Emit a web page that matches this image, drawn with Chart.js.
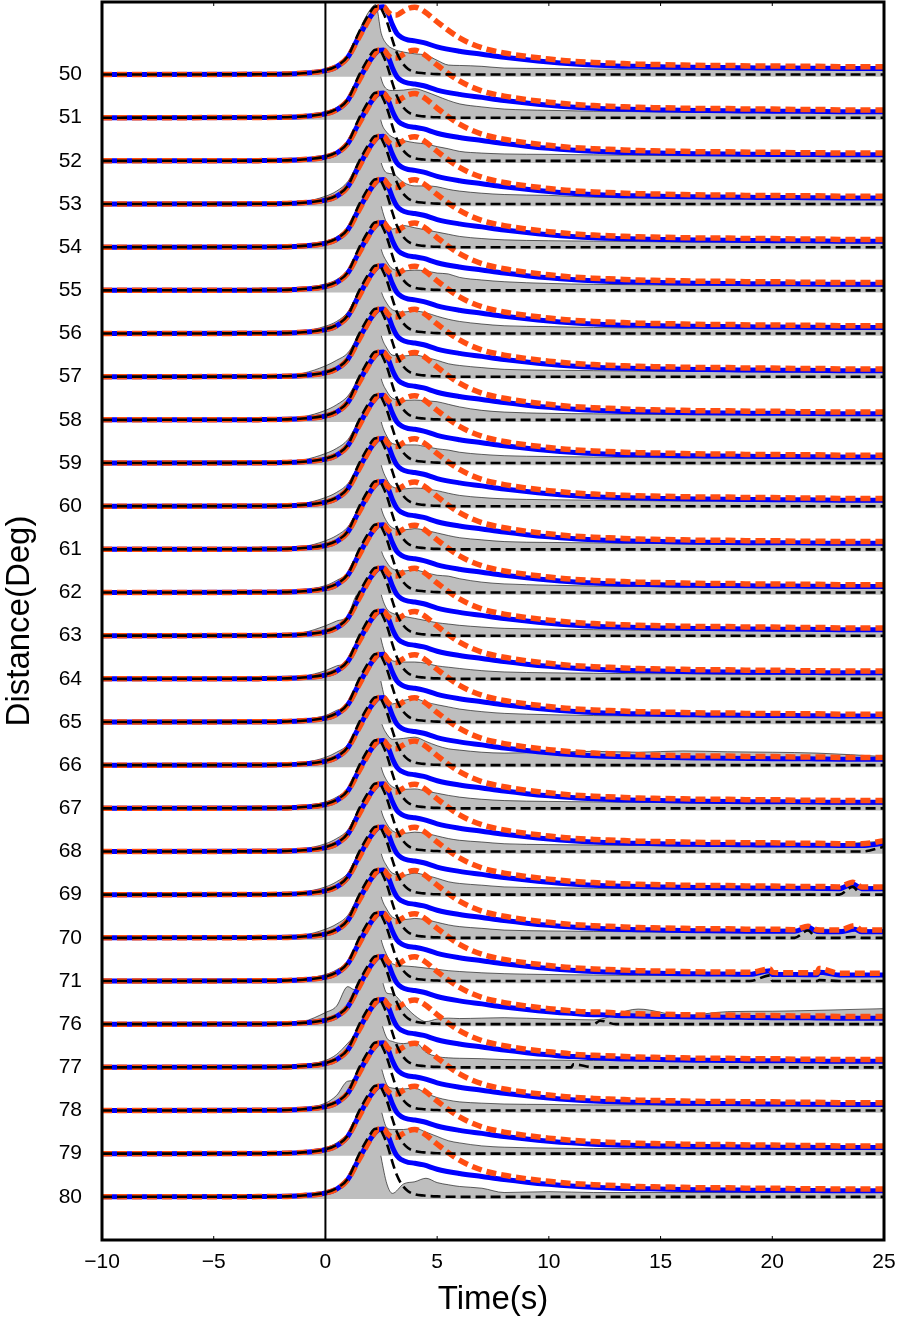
<!DOCTYPE html>
<html>
<head>
<meta charset="utf-8">
<script src="https://cdn.jsdelivr.net/npm/chart.js@4"></script>
<style>
  body { margin: 0; background: #fff; }
  canvas { display: block; }
</style>
</head>
<body>
<canvas id="chart" width="898" height="1320"></canvas>
<script>
// epicentral distances (one trace each)
const distances = [50, 51, 52, 53, 54, 55, 56, 57, 58, 59, 60, 61, 62, 63, 64, 65, 66, 67, 68, 69, 70, 71, 76, 77, 78, 79, 80];
const timeTicks = [-10, -5, 0, 5, 10, 15, 20, 25];

// synthetic traces, sampled times (s) and amplitudes (trace spacings)
const synTimes = [-10, -3, -1, 0, 0.5, 1, 1.5, 2, 2.2, 2.4, 2.6, 2.8, 3, 3.2, 3.4, 3.7, 4, 4.4, 5, 6, 7, 8, 9, 10, 11, 12, 13, 14, 15, 16, 17, 18, 19, 20, 21, 22, 23, 24, 25];
const blackSyn = [0, 0.005, 0.03, 0.1, 0.2, 0.42, 0.98, 1.44, 1.57, 1.58, 1.42, 1.15, 0.8, 0.5, 0.3, 0.13, 0.06, 0.03, 0.01, 0, 0, 0, 0, 0, 0, 0, 0, 0, 0, 0, 0, 0, 0, 0, 0, 0, 0, 0, 0];
const blueSyn = [0, 0.005, 0.03, 0.09, 0.18, 0.4, 0.88, 1.33, 1.47, 1.56, 1.57, 1.42, 1.15, 0.95, 0.86, 0.8, 0.78, 0.74, 0.64, 0.54, 0.47, 0.4, 0.34, 0.29, 0.25, 0.22, 0.2, 0.19, 0.18, 0.17, 0.165, 0.16, 0.155, 0.15, 0.15, 0.145, 0.14, 0.14, 0.14];
const orangeSyn = [0, 0.005, 0.03, 0.09, 0.18, 0.4, 0.86, 1.32, 1.48, 1.57, 1.57, 1.45, 1.38, 1.38, 1.44, 1.53, 1.56, 1.47, 1.22, 0.85, 0.62, 0.5, 0.42, 0.36, 0.31, 0.28, 0.26, 0.24, 0.23, 0.22, 0.21, 0.21, 0.2, 0.2, 0.19, 0.19, 0.18, 0.18, 0.18];

// late arrivals on some synthetics: [distance, time, orange, blue, black]
const lateBumps = [
  [68, 25, 0.25, 0.19, 0.11],
  [69, 23.6, 0.29, 0.25, 0.18],
  [70, 21.6, 0.27, 0.25, 0.17],
  [70, 23.7, 0.28, 0.2, 0.02],
  [71, 19.9, 0.28, 0.24, 0.13],
  [71, 22.1, 0.29, 0.2, 0.02],
  [76, 12.3, 0.28, 0.22, 0.08],
  [77, 11.1, 0.3, 0.25, 0.07]
];

// observed (grey) traces
const obsTimes = [-10, -2, -1, 0, 0.5, 1, 1.3, 1.6, 2, 2.25, 2.5, 2.75, 3, 3.5, 4, 4.5, 5, 5.5, 6, 7, 8, 10, 12, 14, 16, 18, 20, 22, 25];
const observed = [
  [0, 0.01, 0.04, 0.13, 0.22, 0.45, 0.72, 1.12, 1.5, 1.62, 0.95, 0.7, 0.6, 0.52, 0.48, 0.45, 0.33, 0.22, 0.21, 0.19, 0.15, 0.14, 0.13, 0.12, 0.12, 0.11, 0.11, 0.1, 0.1],
  [0, 0.01, 0.04, 0.14, 0.24, 0.47, 0.75, 1.12, 1.5, 1.6, 0.9, 0.66, 0.63, 0.64, 0.67, 0.6, 0.5, 0.4, 0.32, 0.25, 0.2, 0.17, 0.15, 0.14, 0.13, 0.12, 0.12, 0.12, 0.12],
  [0, 0.01, 0.04, 0.13, 0.22, 0.46, 0.72, 1.1, 1.5, 1.6, 0.9, 0.66, 0.55, 0.47, 0.42, 0.39, 0.33, 0.28, 0.22, 0.18, 0.16, 0.15, 0.14, 0.13, 0.12, 0.12, 0.11, 0.11, 0.1],
  [0, 0.01, 0.05, 0.18, 0.3, 0.52, 0.8, 1.15, 1.52, 1.6, 0.95, 0.72, 0.7, 0.5, 0.42, 0.42, 0.4, 0.34, 0.3, 0.25, 0.22, 0.2, 0.16, 0.14, 0.13, 0.12, 0.12, 0.11, 0.1],
  [0, 0.01, 0.04, 0.14, 0.24, 0.48, 0.78, 1.15, 1.52, 1.62, 0.95, 0.55, 0.42, 0.5, 0.45, 0.4, 0.35, 0.3, 0.25, 0.2, 0.17, 0.15, 0.14, 0.13, 0.12, 0.12, 0.11, 0.11, 0.1],
  [0, 0.01, 0.04, 0.15, 0.25, 0.48, 0.76, 1.12, 1.5, 1.62, 0.95, 0.66, 0.5, 0.45, 0.47, 0.45, 0.4, 0.38, 0.3, 0.24, 0.2, 0.16, 0.14, 0.13, 0.12, 0.12, 0.11, 0.11, 0.1],
  [0, 0.01, 0.05, 0.17, 0.28, 0.5, 0.78, 1.14, 1.5, 1.62, 0.98, 0.7, 0.55, 0.5, 0.52, 0.48, 0.4, 0.33, 0.28, 0.22, 0.18, 0.16, 0.14, 0.13, 0.13, 0.12, 0.12, 0.11, 0.1],
  [0, 0.02, 0.08, 0.25, 0.38, 0.55, 0.8, 1.15, 1.5, 1.62, 0.95, 0.66, 0.5, 0.48, 0.5, 0.45, 0.38, 0.3, 0.26, 0.21, 0.17, 0.15, 0.14, 0.13, 0.12, 0.12, 0.11, 0.11, 0.1],
  [0, 0.02, 0.07, 0.22, 0.35, 0.55, 0.8, 1.15, 1.5, 1.62, 0.95, 0.66, 0.5, 0.45, 0.46, 0.44, 0.42, 0.36, 0.3, 0.22, 0.18, 0.15, 0.14, 0.13, 0.12, 0.12, 0.12, 0.11, 0.1],
  [0, 0.02, 0.07, 0.22, 0.34, 0.54, 0.8, 1.14, 1.5, 1.62, 0.95, 0.62, 0.45, 0.42, 0.42, 0.38, 0.33, 0.3, 0.25, 0.2, 0.17, 0.15, 0.14, 0.13, 0.12, 0.12, 0.11, 0.11, 0.1],
  [0, 0.02, 0.06, 0.2, 0.32, 0.52, 0.78, 1.14, 1.5, 1.62, 0.95, 0.62, 0.45, 0.4, 0.42, 0.4, 0.36, 0.3, 0.25, 0.2, 0.17, 0.15, 0.14, 0.13, 0.12, 0.12, 0.11, 0.11, 0.1],
  [0, 0.02, 0.06, 0.2, 0.32, 0.52, 0.78, 1.14, 1.5, 1.62, 0.95, 0.64, 0.5, 0.45, 0.48, 0.44, 0.38, 0.32, 0.27, 0.22, 0.18, 0.16, 0.15, 0.14, 0.13, 0.12, 0.12, 0.11, 0.1],
  [0, 0.02, 0.06, 0.16, 0.28, 0.46, 0.75, 1.12, 1.5, 1.62, 0.98, 0.7, 0.55, 0.5, 0.52, 0.46, 0.4, 0.38, 0.32, 0.24, 0.2, 0.17, 0.15, 0.14, 0.13, 0.12, 0.12, 0.11, 0.1],
  [0, 0.02, 0.07, 0.23, 0.34, 0.46, 0.85, 1.15, 1.5, 1.6, 0.95, 0.62, 0.52, 0.45, 0.4, 0.35, 0.3, 0.27, 0.24, 0.2, 0.17, 0.15, 0.14, 0.13, 0.12, 0.12, 0.11, 0.11, 0.1],
  [0, 0.02, 0.06, 0.19, 0.3, 0.39, 0.7, 1.1, 1.5, 1.62, 0.9, 0.5, 0.42, 0.39, 0.39, 0.36, 0.3, 0.27, 0.24, 0.19, 0.16, 0.14, 0.13, 0.12, 0.12, 0.11, 0.11, 0.1, 0.1],
  [0, 0.02, 0.05, 0.15, 0.27, 0.39, 0.7, 1.1, 1.5, 1.62, 0.9, 0.45, 0.42, 0.5, 0.54, 0.46, 0.4, 0.35, 0.3, 0.24, 0.2, 0.17, 0.15, 0.14, 0.13, 0.12, 0.12, 0.11, 0.1],
  [0, 0.02, 0.06, 0.18, 0.3, 0.48, 0.76, 1.12, 1.5, 1.62, 1.0, 0.72, 0.6, 0.62, 0.65, 0.55, 0.45, 0.38, 0.35, 0.3, 0.28, 0.3, 0.32, 0.3, 0.33, 0.31, 0.3, 0.28, 0.2],
  [0, 0.02, 0.05, 0.15, 0.26, 0.46, 0.74, 1.12, 1.5, 1.62, 0.95, 0.64, 0.5, 0.44, 0.45, 0.4, 0.35, 0.3, 0.26, 0.21, 0.18, 0.16, 0.15, 0.14, 0.13, 0.12, 0.12, 0.11, 0.1],
  [0, 0.02, 0.06, 0.18, 0.3, 0.5, 0.78, 1.14, 1.5, 1.62, 0.95, 0.64, 0.48, 0.42, 0.45, 0.42, 0.36, 0.3, 0.26, 0.22, 0.18, 0.16, 0.15, 0.14, 0.13, 0.13, 0.14, 0.15, 0.24],
  [0, 0.02, 0.06, 0.18, 0.3, 0.5, 0.78, 1.14, 1.5, 1.62, 0.95, 0.66, 0.5, 0.45, 0.5, 0.45, 0.38, 0.3, 0.26, 0.22, 0.18, 0.16, 0.15, 0.14, 0.13, 0.13, 0.13, 0.14, 0.2],
  [0, 0.02, 0.06, 0.2, 0.32, 0.52, 0.8, 1.14, 1.5, 1.62, 0.95, 0.66, 0.48, 0.42, 0.45, 0.42, 0.36, 0.3, 0.26, 0.22, 0.18, 0.16, 0.15, 0.14, 0.13, 0.14, 0.2, 0.2, 0.18],
  [0, 0.02, 0.05, 0.15, 0.26, 0.46, 0.75, 1.12, 1.5, 1.62, 0.95, 0.6, 0.4, 0.35, 0.33, 0.3, 0.27, 0.24, 0.22, 0.19, 0.17, 0.15, 0.14, 0.13, 0.13, 0.15, 0.2, 0.18, 0.15],
  [0, 0.02, 0.06, 0.27, 0.42, 0.87, 0.8, 0.98, 1.45, 1.62, 1.1, 0.72, 0.7, 0.45, 0.2, 0.06, 0.12, 0.14, 0.13, 0.14, 0.15, 0.12, 0.1, 0.35, 0.2, 0.29, 0.3, 0.32, 0.36],
  [0, 0.02, 0.06, 0.16, 0.3, 0.56, 0.74, 1.0, 1.45, 1.6, 1.05, 0.68, 0.6, 0.55, 0.59, 0.35, 0.25, 0.22, 0.21, 0.2, 0.18, 0.17, 0.16, 0.2, 0.18, 0.17, 0.16, 0.15, 0.14],
  [0, 0.02, 0.06, 0.17, 0.35, 0.68, 0.7, 0.95, 1.45, 1.6, 1.0, 0.6, 0.52, 0.5, 0.52, 0.4, 0.3, 0.24, 0.2, 0.17, 0.15, 0.14, 0.13, 0.13, 0.12, 0.12, 0.11, 0.11, 0.1],
  [0, 0.01, 0.05, 0.14, 0.25, 0.46, 0.6, 0.95, 1.45, 1.62, 1.0, 0.6, 0.56, 0.56, 0.59, 0.5, 0.4, 0.3, 0.25, 0.18, 0.15, 0.13, 0.12, 0.12, 0.11, 0.11, 0.1, 0.1, 0.1],
  [0, 0.01, 0.03, 0.08, 0.2, 0.39, 0.62, 1.05, 1.5, 1.63, 0.9, 0.3, 0.08, 0.3, 0.35, 0.43, 0.33, 0.28, 0.24, 0.2, 0.1, 0.12, 0.1, 0.1, 0.1, 0.1, 0.1, 0.1, 0.1]
];

const FONT = "'Liberation Sans', Arial, Helvetica, sans-serif";

function withBumps(dist, col, template) {
  const pts = synTimes.map((t, k) => ({ x: t, y: template[k] }));
  lateBumps.filter(b => b[0] === dist).forEach(b => {
    const same = pts.find(p => p.x === b[1]);
    if (same) same.y = b[col];
    else pts.push({ x: b[1], y: b[col] });
  });
  pts.sort((a, b) => a.x - b.x);
  return pts;
}

const datasets = [];
distances.forEach((d, i) => {
  datasets.push({
    data: obsTimes.map((t, k) => ({ x: t, y: i - observed[i][k] })),
    borderColor: '#000',
    borderWidth: 0.6,
    backgroundColor: '#bebebe',
    fill: { value: i + 0.05 },
    order: 4
  });
  datasets.push({
    data: withBumps(d, 3, blueSyn).map(p => ({ x: p.x, y: i - p.y })),
    borderColor: '#0000ff',
    borderWidth: 5,
    fill: false,
    order: 3
  });
  datasets.push({
    data: withBumps(d, 2, orangeSyn).map(p => ({ x: p.x, y: i - p.y })),
    borderColor: '#ff4e12',
    borderWidth: 5.5,
    borderDash: [10, 5],
    fill: false,
    order: 2
  });
  datasets.push({
    data: withBumps(d, 4, blackSyn).map(p => ({ x: p.x, y: i - p.y })),
    borderColor: '#000',
    borderWidth: 2.6,
    borderDash: [10, 5],
    fill: false,
    order: 1
  });
});

const framePlugin = {
  id: 'frame',
  afterDatasetsDraw(chart) {
    const { ctx, chartArea: a, scales: { x } } = chart;
    ctx.save();
    ctx.strokeStyle = '#000';
    // zero time line
    ctx.lineWidth = 2;
    const x0 = x.getPixelForValue(0);
    ctx.beginPath();
    ctx.moveTo(x0, a.top);
    ctx.lineTo(x0, a.bottom);
    ctx.stroke();
    // small inward ticks on top and bottom
    ctx.lineWidth = 1;
    timeTicks.forEach(t => {
      const px = x.getPixelForValue(t);
      ctx.beginPath();
      ctx.moveTo(px, a.bottom);
      ctx.lineTo(px, a.bottom - 4);
      ctx.moveTo(px, a.top);
      ctx.lineTo(px, a.top + 4);
      ctx.stroke();
    });
    ctx.lineWidth = 3;
    ctx.strokeRect(a.left, a.top, a.right - a.left, a.bottom - a.top);
    ctx.restore();
  }
};

new Chart(document.getElementById('chart'), {
  type: 'line',
  data: { datasets: datasets },
  options: {
    responsive: false,
    devicePixelRatio: 1,
    animation: false,
    layout: { padding: { top: 2, right: 14, left: 0, bottom: 0 } },
    elements: {
      point: { radius: 0 },
      line: { cubicInterpolationMode: 'monotone', borderCapStyle: 'butt' }
    },
    plugins: { legend: { display: false }, tooltip: { enabled: false } },
    scales: {
      x: {
        type: 'linear',
        min: -10,
        max: 25,
        grid: { display: false, drawTicks: false },
        border: { display: false },
        afterBuildTicks: s => { s.ticks = timeTicks.map(v => ({ value: v })); },
        afterFit: s => { s.height = 80; s.paddingLeft = 0; s.paddingRight = 0; },
        ticks: {
          padding: 10,
          color: '#000',
          font: { family: FONT, size: 21 },
          maxRotation: 0,
          callback: v => v < 0 ? '\u2212' + Math.abs(v) : String(v)
        },
        title: {
          display: true,
          text: 'Time(s)',
          color: '#000',
          font: { family: FONT, size: 33 },
          padding: 0
        }
      },
      y: {
        type: 'linear',
        reverse: true,
        min: -1.68,
        max: 27,
        grid: { display: false, drawTicks: false },
        border: { display: false },
        afterBuildTicks: s => { s.ticks = distances.map((d, i) => ({ value: i })); },
        afterFit: s => { s.width = 102; s.paddingTop = 0; s.paddingBottom = 0; },
        ticks: {
          padding: 20,
          color: '#000',
          font: { family: FONT, size: 21 },
          callback: v => String(distances[v])
        },
        title: {
          display: true,
          text: 'Distance(Deg)',
          color: '#000',
          font: { family: FONT, size: 33 },
          padding: 0
        }
      }
    }
  },
  plugins: [framePlugin]
});
</script>
</body>
</html>
